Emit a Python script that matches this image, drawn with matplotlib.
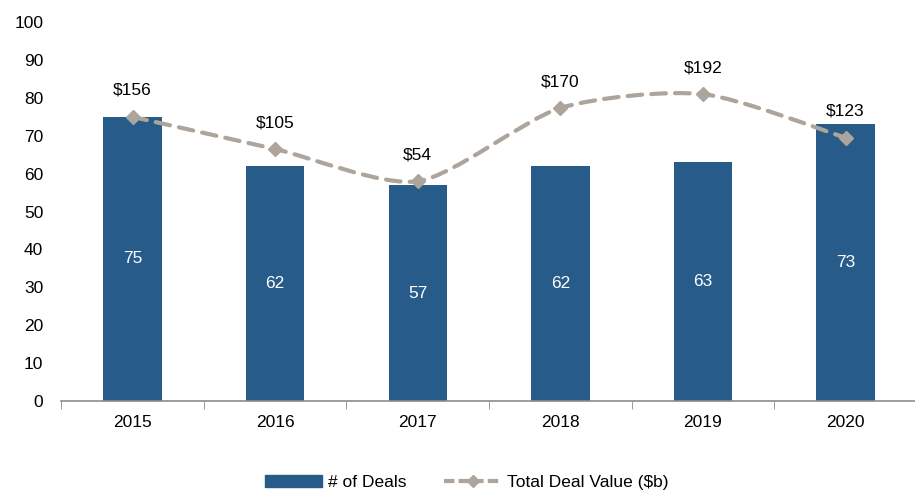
import numpy as np
import matplotlib
matplotlib.use("Agg")
from matplotlib import pyplot as plt
from matplotlib.path import Path
from matplotlib.patches import PathPatch, Patch
from matplotlib.lines import Line2D

# data
years = ["2015", "2016", "2017", "2018", "2019", "2020"]
deals = [75, 62, 57, 62, 63, 73]
deal_value = [156, 105, 54, 170, 192, 123]

bar_color = "#265B8A"
line_color = "#ADA49B"

plt.rcParams["font.family"] = ["Liberation Sans", "DejaVu Sans"]
plt.rcParams["font.size"] = 12.5

fig = plt.figure(figsize=(9.15, 4.92), dpi=100)
ax = fig.add_axes([0.067, 0.185, 0.935, 0.77])

x = np.arange(len(years))
ax.bar(x, deals, width=0.41, color=bar_color, zorder=2)
for xi, d in zip(x, deals):
    ax.text(xi, d / 2, str(d), color="white", ha="center", va="center",
            fontsize=12.5, zorder=3)

ax.set_ylim(0, 100)
ax.set_yticks(range(0, 101, 10))
ax.set_xlim(-0.5, len(years) - 0.5)
ax.set_xticks(x)
ax.set_xticklabels(years)
ax.set_xticks(np.arange(-0.5, len(years), 1.0), minor=True)
ax.tick_params(axis="x", which="major", length=0, pad=10)
ax.tick_params(axis="x", which="minor", length=6, color="#8C8C8C",
               direction="out")
ax.tick_params(axis="y", length=0, pad=13)
for s in ["top", "right", "left"]:
    ax.spines[s].set_visible(False)
ax.spines["bottom"].set_color("#8C8C8C")
ax.spines["bottom"].set_linewidth(1.2)

# secondary axis for deal value (hidden)
ax2 = ax.twinx()
ax2.set_ylim(-294, 306)
ax2.set_xlim(ax.get_xlim())
ax2.axis("off")

# smoothed line through the data points (bezier, like excel's smooth line)
pts = np.column_stack([x, deal_value]).astype(float)
verts = [tuple(pts[0])]
codes = [Path.MOVETO]
n = len(pts)
for i in range(n - 1):
    p0 = pts[max(i - 1, 0)]
    p1 = pts[i]
    p2 = pts[i + 1]
    p3 = pts[min(i + 2, n - 1)]
    c1 = p1 + (p2 - p0) / 8.0
    c2 = p2 - (p3 - p1) / 8.0
    verts += [tuple(c1), tuple(c2), tuple(p2)]
    codes += [Path.CURVE4] * 3
patch = PathPatch(Path(verts, codes), fill=False, edgecolor=line_color,
                  lw=3, linestyle=(0, (3.5, 2.2)), capstyle="round",
                  transform=ax2.transData, zorder=4)
ax2.add_patch(patch)
ax2.plot(x, deal_value, linestyle="none", marker="D", markersize=7,
         color=line_color, zorder=5)
for xi, v in zip(x, deal_value):
    ax2.annotate("$%d" % v, (xi, v), xytext=(0, 19), textcoords="offset points",
                 ha="center", va="center", fontsize=12.5)

handles = [Patch(color=bar_color),
           Line2D([], [], color=line_color, lw=3, linestyle=(0, (2.5, 1)),
                  marker="D", markersize=6)]
fig.legend(handles, ["# of Deals", "Total Deal Value ($b)"],
           loc="lower center", bbox_to_anchor=(0.51, -0.028), ncol=2,
           frameon=False, handlelength=3.3, handletextpad=0.3,
           columnspacing=2.2, fontsize=12.5)

plt.savefig("out.png", dpi=100)
